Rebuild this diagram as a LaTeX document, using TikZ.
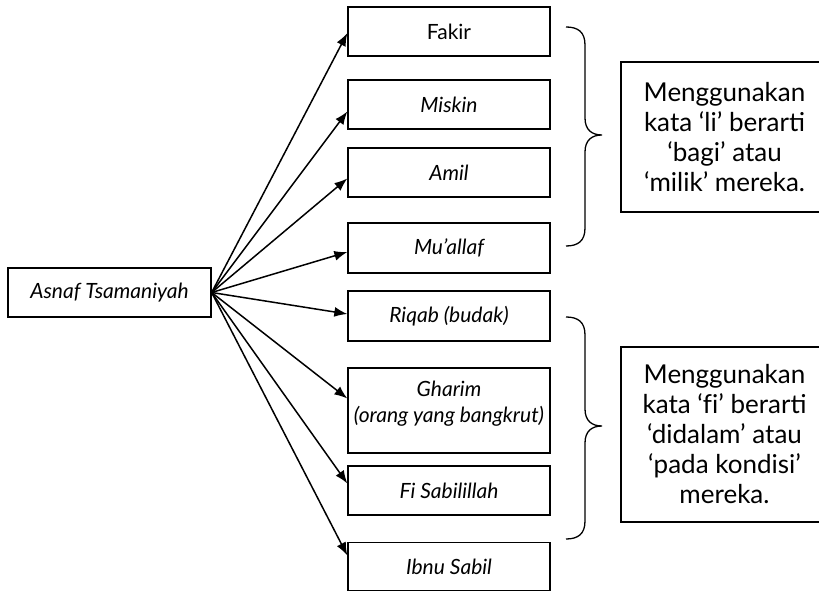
\documentclass[tikz,border=0pt]{standalone}
\usepackage{fontspec}
\setmainfont{Lato}
\usetikzlibrary{arrows.meta}
\begin{document}
\begin{tikzpicture}[x=1pt,y=-1pt,
  box/.style={draw, line width=1.3pt, minimum width=202pt, minimum height=49pt, inner sep=0pt, font=\fontsize{21}{26}\selectfont\itshape},
  boxtext/.style={inner sep=0pt, align=center, font=\fontsize{21}{26}\selectfont\itshape},
  note/.style={draw, line width=1.3pt, minimum width=207pt, align=center, inner sep=0pt, font=\fontsize{26}{30}\selectfont},
  arr/.style={line width=1.5pt, -{Latex[length=13pt,width=10pt]}},
  bracepath/.style={line width=1.3pt}]
\useasboundingbox (0,0) rectangle (819,593);
\clip (0,0) rectangle (819,593);

\node[box, minimum width=203pt] (asnaf) at (109.5,292.5) {Asnaf Tsamaniyah};

\node[box, font=\fontsize{21}{26}\selectfont] (fakir) at (449,31.5) {Fakir};
\node[box] (miskin) at (449,104.5) {Miskin};
\node[box] (amil) at (449,172.5) {Amil};
\node[box, minimum height=50pt] (muallaf) at (449,248) {Mu’allaf};
\node[box, minimum height=50pt] (riqab) at (449,316) {Riqab (budak)};
\node[box, minimum height=85pt] (gharim) at (449,410.5) {};
\node[boxtext, anchor=north] (gharimtxt) at ([yshift=-13.5pt]gharim.north) {Gharim\\(orang yang bangkrut)};
\node[box] (fisab) at (449,490.5) {Fi Sabilillah};
\node[box, minimum height=48pt] (ibnu) at (449,566.5) {Ibnu Sabil};

\draw[arr] (asnaf.east) -- ([yshift=-1.5pt]fakir.west);
\draw[arr] (asnaf.east) -- ([yshift=-7pt]miskin.west);
\draw[arr] (asnaf.east) -- ([yshift=-6pt]amil.west);
\draw[arr] (asnaf.east) -- ([yshift=-4pt]muallaf.west);
\draw[arr] (asnaf.east) -- ([yshift=2pt]riqab.west);
\draw[arr] (asnaf.east) -- ([yshift=12pt]gharim.west);
\draw[arr] (asnaf.east) -- ([yshift=7pt]fisab.west);
\draw[arr] (asnaf.east) -- ([yshift=11pt]ibnu.west);

\draw[bracepath] (566,27) .. controls (578,27) and (585,32) .. (585,45) -- (585,118)
  .. controls (585,130) and (592,135) .. (602,135)
  .. controls (592,135) and (585,140) .. (585,152) -- (585,228)
  .. controls (585,241) and (578,246) .. (566,246);
\draw[bracepath] (566,317) .. controls (578,317) and (585,322) .. (585,335) -- (585,409)
  .. controls (585,421) and (592,426) .. (602,426)
  .. controls (592,426) and (585,431) .. (585,443) -- (585,521)
  .. controls (585,534) and (578,539) .. (566,539);

\node[note, minimum height=150pt] (li) at (724.5,137) {Menggunakan\\kata ‘li’ berarti\\‘bagi’ atau\\‘milik’ mereka.};
\node[note, minimum height=175pt] (fi) at (724.5,434.5) {Menggunakan\\kata ‘f\kern0pt i’ berarti\\‘didalam’ atau\\‘pada kondisi’\\mereka.};
\end{tikzpicture}
\end{document}
